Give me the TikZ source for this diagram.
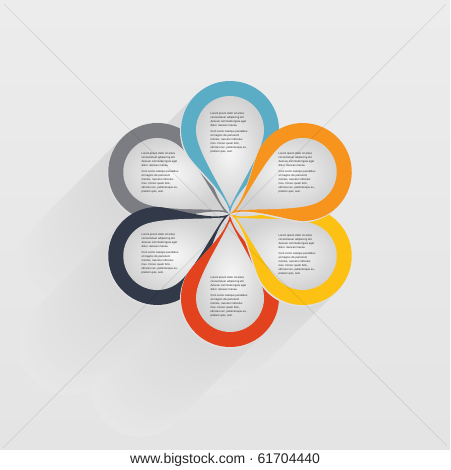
\documentclass[tikz,border=0pt]{standalone}
\usepackage{fontspec}
\setmainfont{Liberation Sans}
\definecolor{cblue}{HTML}{5BADC6}
\definecolor{corange}{HTML}{F7941E}
\definecolor{cyellow}{HTML}{FDC114}
\definecolor{cred}{HTML}{E2421D}
\definecolor{cnavy}{HTML}{323A4A}
\definecolor{cgray}{HTML}{7C7D82}
\definecolor{bgtop}{HTML}{ECECEC}
\definecolor{bgbot}{HTML}{E4E4E4}
\definecolor{bgmid}{HTML}{E8E8E8}
\definecolor{shad}{HTML}{D8D8D8}
\definecolor{txt}{HTML}{222222}
\newcommand{\outerpetal}{(0,0) .. controls (20,-2) and (46.5,-34.9) .. (59.5,-42.4) arc[start angle=-120, end angle=120, radius=49] .. controls (46.5,34.9) and (20,2) .. (0,0) -- cycle}
\newcommand{\innerpetal}{(7,0) .. controls (25,-8) and (58.4,-30) .. (78.1,-33.5) arc[start angle=-100, end angle=100, radius=34] .. controls (58.4,30) and (25,8) .. (7,0) -- cycle}
\newcommand{\petaltext}{Lorem ipsum dolor sit amet,\\consectetuer adipiscing elit.\\Aenean commodo ligula eget\\dolor. Aenean massa.\\[2.2pt]Cum sociis natoque penatibus\\et magnis dis parturient\\montes, nascetur ridiculus\\mus. Donec quam felis,\\ultricies nec, pellentesque eu,\\pretium quis, sem.}
\tikzset{
  petaltxt/.style={align=left, inner sep=0pt, text=txt, font=\fontsize{2.75}{4.0}\selectfont},
  innerfill/.style={inner color=black!3, outer color=black!18},
}
\begin{document}
\begin{tikzpicture}[x=1pt,y=-1pt]
\useasboundingbox (0,0) rectangle (450,470);
% background
\shade[top color=bgtop, bottom color=bgbot] (0,0) rectangle (450,450);
\fill[white] (0,450) rectangle (450,470);
% long shadow
\begin{scope}
\clip (0,0) rectangle (450,450);
\foreach \s in {90,87,...,3} {
  \pgfmathtruncatemacro\p{100-\s*100/96}
  \foreach \a in {90,30,-30,-90,-150,150} {
    \fill[shad!\p!bgmid, shift={(230-\s,214+\s)}, rotate=\a] \outerpetal;
  }
}
\end{scope}
% petals
\foreach \a/\c in {150/cgray,90/cblue,-150/cnavy,-90/cred,-30/cyellow,30/corange} {
  \fill[black!12, shift={(229,215.5)}, rotate=\a] \outerpetal;
  \fill[\c, shift={(230,214)}, rotate=\a] \outerpetal;
  \shade[innerfill, shift={(230,214)}, rotate=\a] \innerpetal;
}
% texts
\node[petaltxt] (tblue) at (229,133) {\petaltext};
\node[petaltxt] (torange) at (297,173) {\petaltext};
\node[petaltxt] (tyellow) at (297,255) {\petaltext};
\node[petaltxt] (tred) at (229,297) {\petaltext};
\node[petaltxt] (tnavy) at (160,254) {\petaltext};
\node[petaltxt] (tgray) at (160,173) {\petaltext};
% watermark lines
\coordinate (d1) at (4,4);
\coordinate (d2) at (447,446);
\coordinate (d3) at (446,4);
\coordinate (d4) at (3,448);
\draw[black, opacity=0.10, line width=0.6pt] (d1) -- (d2);
\draw[black, opacity=0.10, line width=0.6pt] (d3) -- (d4);
% footer
\node[text=black!85, font=\fontsize{14}{14}\selectfont] (footer) at (225,460) {www.bigstock.com · 61704440};
\end{tikzpicture}
\end{document}
